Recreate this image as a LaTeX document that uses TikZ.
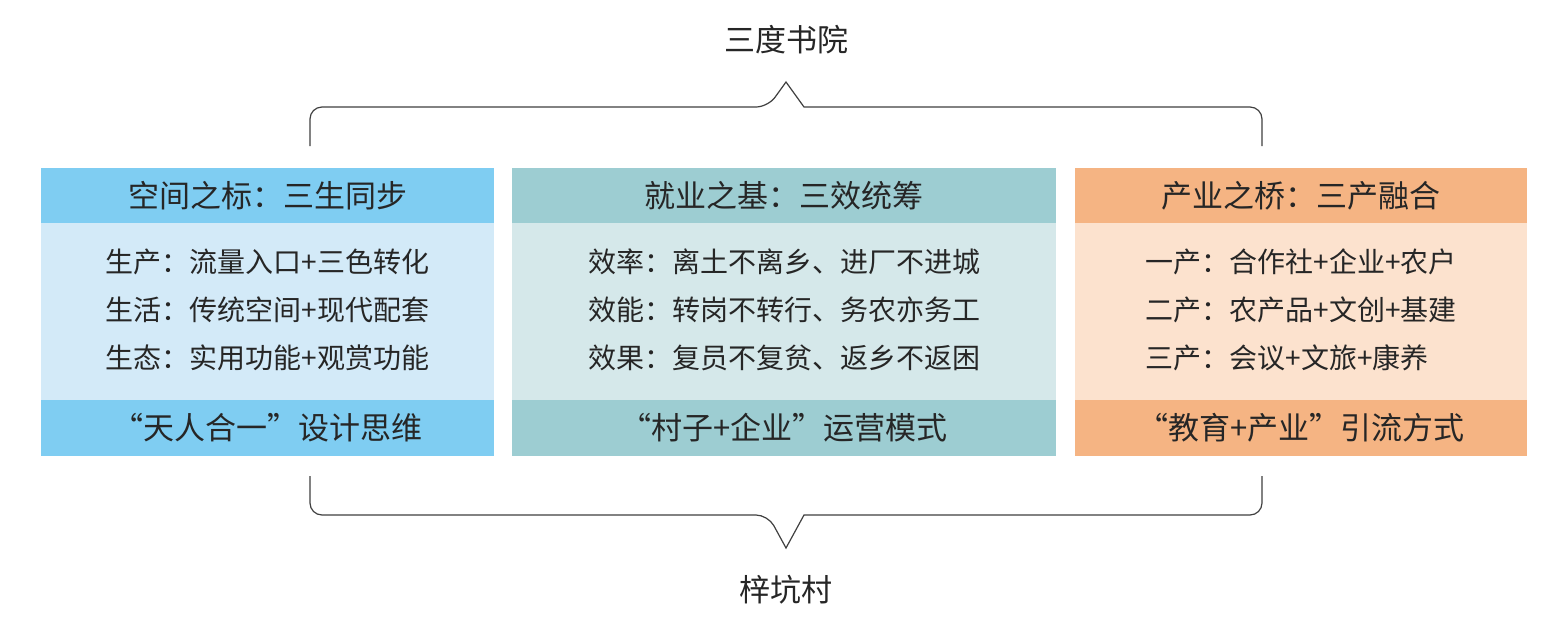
\documentclass[tikz,border=0pt]{standalone}
\usepackage{fontspec}
\setmainfont{Noto Sans CJK SC}
\definecolor{h1}{HTML}{7FCDF2}\definecolor{b1}{HTML}{D3EAF8}
\definecolor{h2}{HTML}{9DCDD2}\definecolor{b2}{HTML}{D5E8EA}
\definecolor{h3}{HTML}{F5B483}\definecolor{b3}{HTML}{FCE2CE}
\tikzset{hd/.style={font=\fontsize{31}{36}\selectfont,text=black!85},
bd/.style={font=\fontsize{28}{48}\selectfont,align=left,text=black!85},
lbl/.style={font=\fontsize{31}{36}\selectfont,text=black!85},
brace/.style={draw=black!75,line width=1.2pt,rounded corners=12pt}}
\begin{document}
\begin{tikzpicture}[x=1pt,y=-1pt]
\useasboundingbox[fill=white] (0,0) rectangle (1556,630);
\foreach \a/\b/\h/\bb/\n in {41/494/h1/b1/1,512/1056/h2/b2/2,1075/1527/h3/b3/3}{
  \fill[\bb] (\a,168) rectangle (\b,456);
  \fill[\h] (\a,168) rectangle (\b,223);
  \fill[\h] (\a,400) rectangle (\b,456);
  \coordinate (t\n) at ({(\a+\b)/2},196);
  \coordinate (m\n) at ({(\a+\b)/2},310);
  \coordinate (f\n) at ({(\a+\b)/2},428);
}
\node[hd] (h1n) at (t1) {空间之标：三生同步};
\node[hd] (h2n) at (t2) {就业之基：三效统筹};
\node[hd] (h3n) at (t3) {产业之桥：三产融合};
\node[bd] (b1n) at (m1) {生产：流量入口+三色转化\\生活：传统空间+现代配套\\生态：实用功能+观赏功能};
\node[bd] (b2n) at (m2) {效率：离土不离乡、进厂不进城\\效能：转岗不转行、务农亦务工\\效果：复员不复贫、返乡不返困};
\node[bd] (b3n) at (m3) {一产：合作社+企业+农户\\二产：农产品+文创+基建\\三产：会议+文旅+康养};
\node[hd] (f1n) at (f1) {“天人合一”设计思维};
\node[hd] (f2n) at (f2) {“村子+企业”运营模式};
\node[hd] (f3n) at (f3) {“教育+产业”引流方式};
\node[lbl] (top) at (786,40) {三度书院};
\node[lbl] (bot) at (786,590) {梓坑村};
\draw[brace] (310,146) -- (310,107) -- (768,107) [sharp corners]-- (786,82) -- (804,107) [rounded corners=12pt]-- (1262,107) -- (1262,146);
\draw[brace] (310,476) -- (310,515) -- (768,515) [sharp corners]-- (786,548) -- (804,515) [rounded corners=12pt]-- (1262,515) -- (1262,476);
\end{tikzpicture}
\end{document}
